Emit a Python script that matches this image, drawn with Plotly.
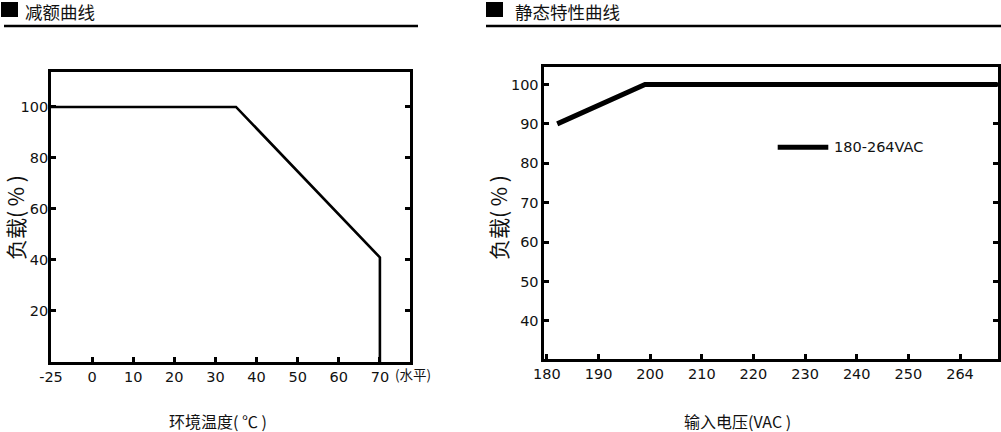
import plotly.graph_objects as go

W, H = 1001, 432

# ---------------- data ----------------
# Derating curve (left)
derate_temp = [-25, 35, 70, 70]          # ambient temperature, °C
derate_load = [100, 100, 41, 0]          # load, %
derate_xticks = [-25, 0, 10, 20, 30, 40, 50, 60, 70]
derate_yticks = [20, 40, 60, 80, 100]

# Static characteristic (right)
static_vin = [182, 199, 270]             # input voltage (axis slots)
static_load = [90, 100, 100]             # load, %
static_xtick_pos = [180, 190, 200, 210, 220, 230, 240, 250, 260]
static_xtick_text = ["180", "190", "200", "210", "220", "230", "240", "250", "264"]
static_yticks = [40, 50, 60, 70, 80, 90, 100]
legend_name = "180-264VAC"


def temp_pos(t):
    # the reference axis compresses the span below 0 °C into one tick slot
    return t if t >= 0 else t * 10 / 25


def px(x):
    return x / W


def py(y):
    return 1 - y / H


TICKFONT = dict(family="DejaVu Sans", size=14.5, color="#111")
CJK = "Noto Sans CJK SC"

fig = go.Figure()

fig.add_trace(go.Scatter(
    x=[temp_pos(t) for t in derate_temp], y=derate_load, mode="lines",
    line=dict(color="black", width=2.6), xaxis="x", yaxis="y", showlegend=False,
    hoverinfo="skip",
))
fig.add_trace(go.Scatter(
    x=static_vin, y=static_load, mode="lines", name=legend_name,
    line=dict(color="black", width=5), xaxis="x2", yaxis="y2", showlegend=False,
    hoverinfo="skip",
))

axis_common = dict(
    showline=True, linecolor="black", linewidth=2.6, showgrid=False, zeroline=False,
    ticks="inside", ticklen=5, tickwidth=2.5, tickcolor="black", tickfont=TICKFONT,
    automargin=False,
)

fig.update_layout(
    template="none",
    width=W, height=H, margin=dict(l=0, r=0, t=0, b=0, pad=0),
    paper_bgcolor="white", plot_bgcolor="white", showlegend=False,
    xaxis=dict(domain=[px(51), px(409.5)], anchor="y", range=[-10, 77.2],
               tickvals=[temp_pos(t) for t in derate_xticks],
               ticktext=[str(t) for t in derate_xticks], mirror=True, **axis_common),
    yaxis=dict(domain=[py(362), py(72)], anchor="x", range=[0, 113.7],
               tickvals=derate_yticks, mirror="ticks", ticklabelstandoff=-3,
               **axis_common),
    xaxis2=dict(domain=[px(544.3), px(997.7)], anchor="y2", range=[179.5, 267.3],
                tickvals=static_xtick_pos, ticktext=static_xtick_text, mirror=True,
                **axis_common),
    yaxis2=dict(domain=[py(359), py(66.7)], anchor="x2", range=[30.35, 104.5],
                tickvals=static_yticks, mirror="ticks", **axis_common),
)

shapes = [
    # header squares and rules
    dict(type="rect", xref="paper", yref="paper", x0=px(1), x1=px(18), y0=py(17), y1=py(2),
         fillcolor="black", line=dict(width=0)),
    dict(type="line", xref="paper", yref="paper", x0=px(4), x1=px(418), y0=py(26), y1=py(26),
         line=dict(color="black", width=2.5)),
    dict(type="rect", xref="paper", yref="paper", x0=px(486), x1=px(503), y0=py(17), y1=py(2),
         fillcolor="black", line=dict(width=0)),
    dict(type="line", xref="paper", yref="paper", x0=px(486), x1=px(1001), y0=py(26), y1=py(26),
         line=dict(color="black", width=2.5)),
    # legend sample
    dict(type="line", xref="paper", yref="paper", x0=px(777.7), x1=px(828.3),
         y0=py(147.3), y1=py(147.3), line=dict(color="black", width=5)),
]

annotations = [
    dict(text="减额曲线", x=px(24), y=py(11.5), xanchor="left", yanchor="middle", borderpad=0,
         font=dict(family=CJK, size=17.5, color="#111")),
    dict(text="静态特性曲线", x=px(514), y=py(11.5), xanchor="left", yanchor="middle", borderpad=0,
         font=dict(family=CJK, size=17.5, color="#111")),
    dict(text="负载( % )", x=px(15), y=py(218), textangle=-90, xanchor="center", yanchor="middle",
         font=dict(family=CJK, size=21, color="#111")),
    dict(text="负载( % )", x=px(498), y=py(218), textangle=-90, xanchor="center", yanchor="middle",
         font=dict(family=CJK, size=21, color="#111")),
    dict(text="环境温度( ℃ )", x=px(218), y=py(421), xanchor="center", yanchor="middle",
         font=dict(family=CJK, size=16, color="#111")),
    dict(text="输入电压(VAC )", x=px(737), y=py(421), xanchor="center", yanchor="middle",
         font=dict(family=CJK, size=16, color="#111")),
    dict(text="(水平)", x=px(393), y=py(374), xanchor="left", yanchor="middle",
         font=dict(family=CJK, size=13.5, color="#111")),
    dict(text=legend_name, x=px(832), y=py(147.5), xanchor="left", yanchor="middle",
         font=dict(family="DejaVu Sans", size=14.5, color="#111")),
]
for a in annotations:
    a.update(xref="paper", yref="paper", showarrow=False)

fig.update_layout(shapes=shapes, annotations=annotations)

fig.write_html(
    "out.html",
    config={"displayModeBar": False},
    post_script="document.body.style.margin='0';document.body.style.overflow='hidden';",
)
